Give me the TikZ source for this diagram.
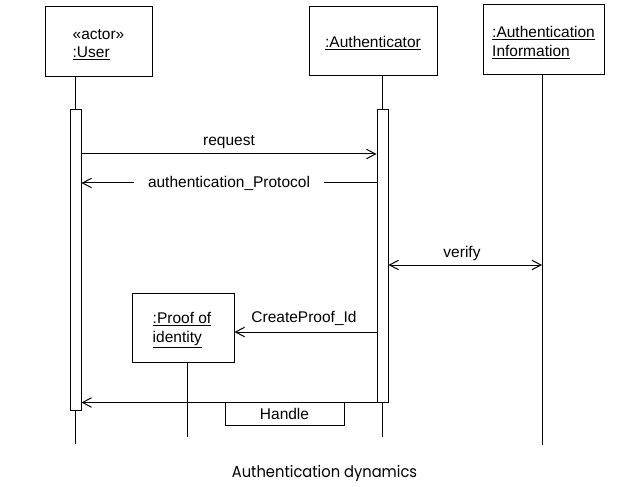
\documentclass[tikz,border=0pt]{standalone}
\usepackage{fontspec}
\setmainfont{Liberation Sans}
\newfontfamily\capfont{Poppins}
\usetikzlibrary{arrows.meta,calc}
\begin{document}
\begin{tikzpicture}[x=1pt,y=-1pt,
  every node/.style={font=\fontsize{15.5}{18.5}\selectfont, inner sep=0pt},
  obj/.style={draw, line width=1pt, fill=white},
  objtext/.style={align=left},
  act/.style={draw, line width=1pt, fill=white, minimum width=11pt},
  life/.style={line width=1pt},
  tip/.tip={Straight Barb[length=9pt,width=9.5pt,line width=1pt]},
  msg/.style={line width=1pt, -tip},
  dmsg/.style={line width=1pt, tip-tip}]
\useasboundingbox (0,0) rectangle (641,487);
\fill[white] (0,0) rectangle (641,487);

% objects
\node[obj, minimum width=107pt, minimum height=70pt] (user) at (98.5,42) {};
\node[objtext] (usert) at ($(user)+(0,2.5)$) {«actor»\\\underline{:User}};
\node[obj, minimum width=128pt, minimum height=69pt] (auth) at (373,41.5) {};
\node[objtext] (autht) at ($(auth)+(0,1.5)$) {\underline{:Authenticator}};
\node[obj, minimum width=121pt, minimum height=70pt] (info) at (543.5,40) {};
\node[objtext] (infot) at ($(info)+(0,2.5)$) {\underline{:Authentication}\\\underline{Information}};
\node[obj, minimum width=102pt, minimum height=69pt] (proof) at (183,327.5) {};
\node[objtext] (prooft) at ($(proof)+(-1,2.5)$) {\underline{:Proof of}\\\underline{identity}};

% activations
\node[act, minimum height=300pt] (ua) at (75.5,260) {};
\node[act, minimum height=292pt] (aa) at (382.5,256) {};

% lifeline end points
\coordinate (uend) at (75.5,444);
\coordinate (aend) at (382.5,437);
\coordinate (itop) at (542,75);
\coordinate (iend) at (542,445);
\coordinate (ptop) at (187,362);
\coordinate (pend) at (187,437);

% lifelines
\draw[life] (ua.north |- user.south) -- (ua.north);
\draw[life] (ua.south) -- (uend);
\draw[life] (aa.north |- auth.south) -- (aa.north);
\draw[life] (aa.south) -- (aend);
\draw[life] (itop) -- (iend);
\draw[life] (ptop) -- (pend);

% messages
\draw[msg] (ua.east |- 0,154) -- (aa.west |- 0,154);
\node (lreq) at (229,142) {request};

\draw[msg] (aa.west |- 0,183) -- (ua.east |- 0,183)
  node[midway, fill=white, inner xsep=14pt, inner ysep=2pt] (lprot) {authentication\_Protocol};

\draw[dmsg] (aa.east |- 0,265) -- (iend |- 0,265);
\node (lver) at (462,253) {verify};

\draw[msg] (aa.west |- 0,332) -- (proof.east |- 0,332);
\node (lcp) at (304,318) {CreateProof\_Id};

\draw[msg] (aa.south east) -- (ua.east |- aa.south);
\node[draw, line width=1pt, minimum width=119pt, minimum height=23pt] (lhandle) at (284.5,413.5) {Handle};

% caption
\node[font=\capfont\fontsize{16}{19}\selectfont] (cap) at (324.5,473.5) {\scalebox{0.92}[1]{Authentication dynamics}};
\end{tikzpicture}
\end{document}
